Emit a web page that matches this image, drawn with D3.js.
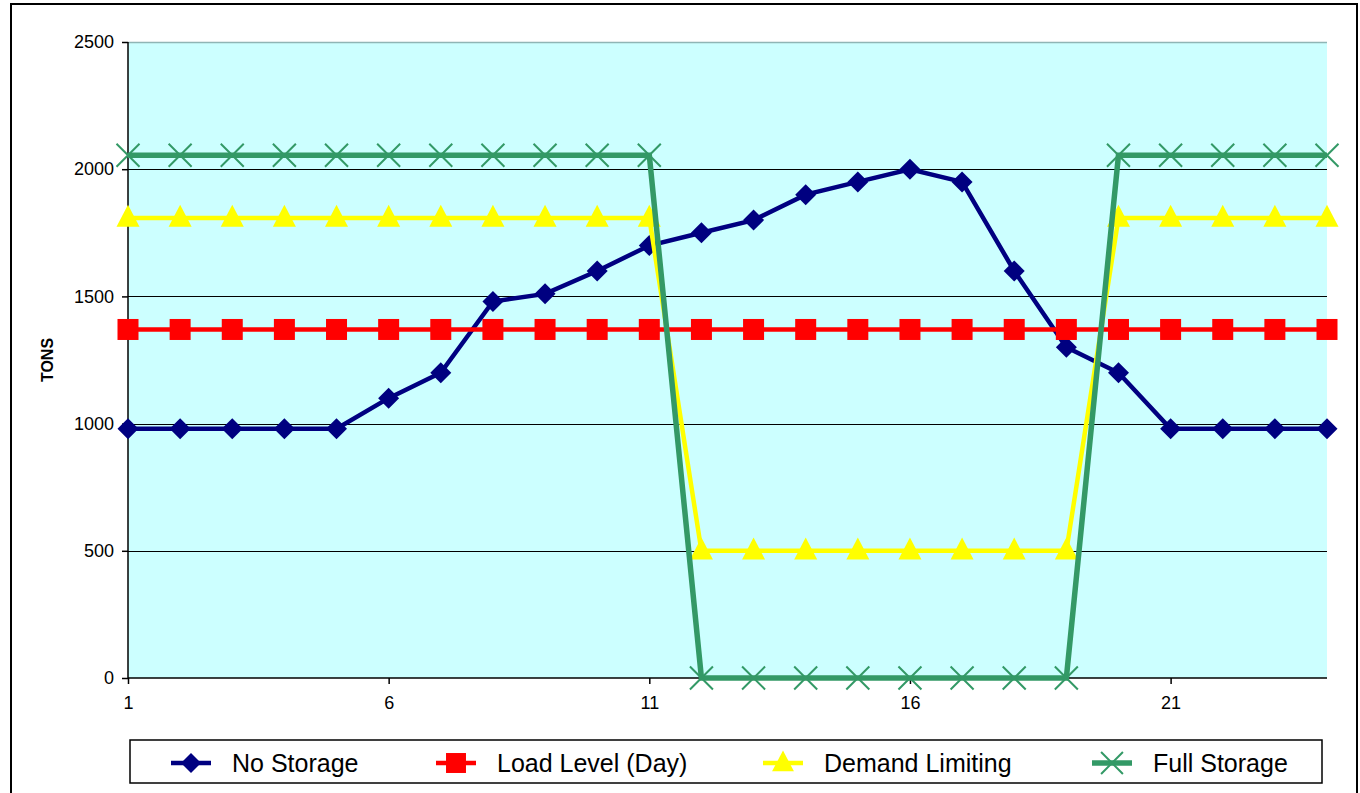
<!DOCTYPE html>
<html>
<head>
<meta charset="utf-8">
<script src="https://cdn.jsdelivr.net/npm/d3@7"></script>
<style>
  html, body { margin: 0; padding: 0; background: #fff; }
  svg { display: block; font-family: "Liberation Sans", Arial, sans-serif; }
</style>
</head>
<body>
<svg id="chart" width="1360" height="793"></svg>
<script>
// Hourly tonnage by storage strategy (hours 1–24)
const hours = d3.range(1, 25);
const noStorage      = [980, 980, 980, 980, 980, 1100, 1200, 1480, 1510, 1600, 1700, 1750, 1800, 1900, 1950, 2000, 1950, 1600, 1300, 1200, 980, 980, 980, 980];
const loadLevel      = [1370, 1370, 1370, 1370, 1370, 1370, 1370, 1370, 1370, 1370, 1370, 1370, 1370, 1370, 1370, 1370, 1370, 1370, 1370, 1370, 1370, 1370, 1370, 1370];
const demandLimiting = [1808, 1808, 1808, 1808, 1808, 1808, 1808, 1808, 1808, 1808, 1808, 500, 500, 500, 500, 500, 500, 500, 500, 1808, 1808, 1808, 1808, 1808];
const fullStorage    = [2055, 2055, 2055, 2055, 2055, 2055, 2055, 2055, 2055, 2055, 2055, 0, 0, 0, 0, 0, 0, 0, 0, 2055, 2055, 2055, 2055, 2055];
const yTicks = [0, 500, 1000, 1500, 2000, 2500];
const xTicks = [1, 6, 11, 16, 21];
const seriesNames = ["No Storage", "Load Level (Day)", "Demand Limiting", "Full Storage"];

const series = [
  { name: seriesNames[0], values: noStorage,      color: "#000080", width: 4.5, marker: "diamond" },
  { name: seriesNames[1], values: loadLevel,      color: "#ff0000", width: 4.5, marker: "square" },
  { name: seriesNames[2], values: demandLimiting, color: "#ffff00", width: 4.5, marker: "triangle" },
  { name: seriesNames[3], values: fullStorage,    color: "#339966", width: 5.5, marker: "cross" }
];

const svg = d3.select("#chart");
const plot = { left: 128, right: 1327, top: 42, bottom: 678 };

const x = d3.scaleLinear().domain([1, 24]).range([plot.left, plot.right]);
const y = d3.scaleLinear().domain([0, 2500]).range([plot.bottom, plot.top]);

// Outer chart frame
svg.append("rect")
  .attr("x", 11).attr("y", 4)
  .attr("width", 1346).attr("height", 820)
  .attr("fill", "#fff").attr("stroke", "#000").attr("stroke-width", 2);

// Plot background
svg.append("rect")
  .attr("x", plot.left).attr("y", plot.top)
  .attr("width", plot.right - plot.left).attr("height", plot.bottom - plot.top)
  .attr("fill", "#ccffff");

// Horizontal gridlines
svg.append("g").selectAll("line")
  .data(yTicks.filter(d => d > 0))
  .join("line")
  .attr("x1", plot.left).attr("x2", plot.right)
  .attr("y1", d => Math.round(y(d)) + 0.5).attr("y2", d => Math.round(y(d)) + 0.5)
  .attr("stroke", d => d === 2500 ? "#8fb5b5" : "#000")
  .attr("stroke-width", d => d === 2500 ? 1.5 : 1.2);

// Y axis
const yAxis = svg.append("g")
  .attr("transform", `translate(${plot.left},0)`)
  .call(d3.axisLeft(y).tickValues(yTicks).tickSize(6).tickPadding(8).tickFormat(d3.format("d")));
yAxis.select(".domain").attr("stroke", "#000").attr("stroke-width", 1.5).attr("d", `M0,${plot.top}V${plot.bottom}`);
yAxis.selectAll(".tick line").attr("stroke", "#000").attr("stroke-width", 1.5);
yAxis.selectAll(".tick text").attr("font-size", 18).attr("fill", "#000")
  .attr("font-family", "Liberation Sans, Arial, sans-serif");

// X axis
const xAxis = svg.append("g")
  .attr("transform", `translate(0,${plot.bottom})`)
  .call(d3.axisBottom(x).tickValues(xTicks).tickSize(6).tickPadding(12).tickFormat(d3.format("d")));
xAxis.select(".domain").attr("stroke", "#000").attr("stroke-width", 1.5).attr("d", `M${plot.left},0H${plot.right}`);
xAxis.selectAll(".tick line").attr("stroke", "#000").attr("stroke-width", 1.5);
xAxis.selectAll(".tick text").attr("font-size", 18).attr("fill", "#000")
  .attr("font-family", "Liberation Sans, Arial, sans-serif");

// Y axis title
svg.append("text")
  .attr("transform", `translate(53,${(plot.top + plot.bottom) / 2}) rotate(-90)`)
  .attr("text-anchor", "middle")
  .attr("font-size", 16).attr("font-weight", "bold")
  .text("TONS");

// Marker shapes
function drawMarker(g, type, color, cx, cy, scale = 1) {
  if (type === "diamond") {
    const r = 10.5 * scale;
    g.append("path").attr("d", `M${cx},${cy - r}L${cx + r},${cy}L${cx},${cy + r}L${cx - r},${cy}Z`).attr("fill", color);
  } else if (type === "square") {
    const s = 10.5 * scale;
    g.append("rect").attr("x", cx - s).attr("y", cy - s).attr("width", 2 * s).attr("height", 2 * s).attr("fill", color);
  } else if (type === "triangle") {
    const w = 11.5 * scale, h = 22 * scale;
    g.append("path").attr("d", `M${cx},${cy - h * 0.6}L${cx + w},${cy + h * 0.4}L${cx - w},${cy + h * 0.4}Z`).attr("fill", color);
  } else if (type === "cross") {
    const r = 11.5 * scale;
    g.append("path").attr("d", `M${cx - r},${cy - r}L${cx + r},${cy + r}M${cx - r},${cy + r}L${cx + r},${cy - r}`)
      .attr("stroke", color).attr("stroke-width", 2).attr("fill", "none");
  }
}

// Series lines and markers
const line = d3.line().x((d, i) => x(hours[i])).y(d => y(d));
series.forEach(s => {
  const g = svg.append("g");
  g.append("path")
    .attr("d", line(s.values))
    .attr("fill", "none")
    .attr("stroke", s.color)
    .attr("stroke-width", s.width)
    .attr("stroke-linejoin", "miter");
  s.values.forEach((v, i) => drawMarker(g, s.marker, s.color, x(hours[i]), y(v)));
});

// Legend
const legend = svg.append("g");
legend.append("rect")
  .attr("x", 130).attr("y", 740).attr("width", 1192).attr("height", 43)
  .attr("fill", "#fff").attr("stroke", "#000").attr("stroke-width", 1.5);
const legendX = [171, 436, 763, 1092];
series.forEach((s, i) => {
  const lx = legendX[i], ly = 763;
  const g = legend.append("g");
  g.append("line").attr("x1", lx).attr("x2", lx + 40).attr("y1", ly).attr("y2", ly)
    .attr("stroke", s.color).attr("stroke-width", s.width);
  drawMarker(g, s.marker, s.color, lx + 20, ly, 0.95);
  g.append("text").attr("x", lx + 61).attr("y", ly + 9)
    .attr("font-size", 25).attr("fill", "#000").text(s.name);
});
</script>
</body>
</html>
